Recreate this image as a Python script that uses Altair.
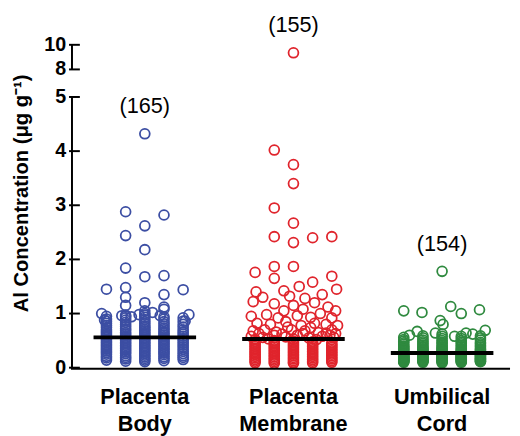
import altair as alt
import pandas as pd

# ---------------- data ----------------
categories = ["Placenta Body", "Placenta Membrane", "Umbilical Cord"]
counts = [165, 155, 154]
medians = [0.56, 0.53, 0.27]
colors = ["#3c4ea3", "#e0242c", "#2f8a3f"]
y_title = "Al Concentration (μg g⁻¹)"

# dense columns (five sub-columns per group, offsets -2..2)
body_columns = [
    [0.14, 0.18, 0.21, 0.25, 0.28, 0.31, 0.34, 0.37, 0.40, 0.43, 0.46, 0.49, 0.52, 0.55, 0.58, 0.61, 0.64, 0.67, 0.70, 0.74, 0.78, 0.82, 0.86, 0.90, 0.95],
    [0.12, 0.16, 0.19, 0.22, 0.26, 0.29, 0.32, 0.35, 0.38, 0.41, 0.44, 0.47, 0.50, 0.53, 0.56, 0.59, 0.62, 0.65, 0.69, 0.72, 0.76, 0.80, 0.84, 0.88, 0.92, 0.95, 0.97],
    [0.11, 0.14, 0.17, 0.20, 0.23, 0.26, 0.29, 0.32, 0.35, 0.38, 0.41, 0.44, 0.47, 0.50, 0.53, 0.56, 0.59, 0.62, 0.65, 0.68, 0.71, 0.74, 0.77, 0.81, 0.85, 0.89, 0.93, 0.97, 1.00],
    [0.13, 0.17, 0.20, 0.24, 0.27, 0.30, 0.33, 0.36, 0.39, 0.42, 0.45, 0.48, 0.51, 0.54, 0.57, 0.60, 0.63, 0.66, 0.70, 0.73, 0.77, 0.81, 0.85, 0.90, 0.94],
    [0.15, 0.19, 0.22, 0.26, 0.30, 0.34, 0.38, 0.42, 0.46, 0.50, 0.54, 0.58, 0.62, 0.66, 0.70, 0.75, 0.80, 0.86, 0.92],
]
body_extra_offsets = [0, -1, 1, 0, -1, 0, -1, 0, 1, -2, -1, 1, 2, -1, -1, 0, 1, 0, -2.25, 2.3, -1.2, 1.0, -0.3, 0.4, -2.1, 2.1, -0.7, 0.8]
body_extra_values = [4.32, 2.88, 2.82, 2.62, 2.44, 2.18, 1.84, 1.68, 1.70, 1.45, 1.48, 1.35, 1.44, 1.30, 1.15, 1.20, 1.12, 1.05, 1.00, 0.98, 0.96, 1.08, 0.98, 1.02, 0.88, 0.86, 0.94, 0.96]

mem_columns = [
    [0.09, 0.12, 0.15, 0.18, 0.21, 0.24, 0.27, 0.30, 0.33, 0.36, 0.39, 0.42, 0.45, 0.48],
    [0.08, 0.11, 0.14, 0.17, 0.20, 0.23, 0.26, 0.29, 0.32, 0.35, 0.38, 0.41, 0.44, 0.47, 0.50],
    [0.08, 0.10, 0.13, 0.16, 0.19, 0.22, 0.25, 0.28, 0.31, 0.34, 0.37, 0.40, 0.43, 0.46, 0.49],
    [0.09, 0.12, 0.15, 0.18, 0.21, 0.24, 0.27, 0.30, 0.33, 0.36, 0.39, 0.42, 0.45, 0.48],
    [0.10, 0.13, 0.16, 0.19, 0.22, 0.25, 0.28, 0.31, 0.34, 0.37, 0.40, 0.43, 0.46],
]
mem_extra_offsets = [0, -1, 0, 0, -1, 0, -1, 0, 1, 2, -1, 0, -2, -1, 2, 1, 2.25, -1.95,
                     0.3, -0.5, -1.6, -0.2, 0.6, 1.5, -2.1, -1.0, 0.0, 1.1, 1.8, -0.5, 0.5, 2.2,
                     -2.2, -1.4, -0.8, 0.2, 0.9, 1.4, 2.0, -1.9, -1.2, -0.4, 0.4, 1.1, 1.7, 2.3,
                     -2.1, -1.5, -0.9, -0.1, 0.6, 1.3, 2.0, -2.2, -1.6, -1.0, -0.4, 0.2, 0.8, 1.5, 2.1,
                     -1.8, -0.6, 0.5, 1.7, -1.3, 0.0, 1.2, 2.2, -2.0, -0.3, 0.9, 1.9]
mem_extra_values = [9.35, 4.02, 3.75, 3.40, 2.95, 2.67, 2.42, 2.31, 2.40, 2.42, 1.87, 1.87, 1.76, 1.65, 1.69, 1.58, 1.45, 1.40,
                    1.50, 1.42, 1.30, 1.32, 1.28, 1.35, 1.22, 1.18, 1.15, 1.20, 1.12, 1.05, 1.08, 1.05,
                    0.95, 0.98, 0.92, 0.96, 0.93, 1.00, 0.92, 0.82, 0.80, 0.85, 0.78, 0.82, 0.80, 0.78,
                    0.68, 0.70, 0.66, 0.70, 0.68, 0.65, 0.70, 0.58, 0.56, 0.60, 0.57, 0.60, 0.55, 0.58, 0.56,
                    0.63, 0.62, 0.63, 0.64, 0.53, 0.53, 0.52, 0.63, 0.52, 0.75, 0.74, 0.60]

cord_columns = [
    [0.10, 0.11, 0.12, 0.13, 0.14, 0.15, 0.16, 0.17, 0.18, 0.19, 0.20, 0.21, 0.22, 0.24, 0.26, 0.28, 0.30, 0.32, 0.34, 0.36, 0.38, 0.40, 0.43, 0.46, 0.49, 0.52, 0.56],
    [0.10, 0.12, 0.13, 0.14, 0.15, 0.17, 0.18, 0.19, 0.20, 0.22, 0.23, 0.24, 0.25, 0.27, 0.29, 0.31, 0.33, 0.35, 0.37, 0.39, 0.42, 0.45, 0.48, 0.51, 0.55, 0.59],
    [0.09, 0.11, 0.12, 0.13, 0.14, 0.16, 0.17, 0.18, 0.19, 0.21, 0.22, 0.23, 0.25, 0.26, 0.28, 0.30, 0.32, 0.34, 0.36, 0.38, 0.41, 0.44, 0.47, 0.50, 0.54, 0.58, 0.62],
    [0.10, 0.11, 0.13, 0.14, 0.15, 0.16, 0.18, 0.19, 0.20, 0.21, 0.23, 0.24, 0.26, 0.27, 0.29, 0.31, 0.33, 0.35, 0.38, 0.41, 0.44, 0.47, 0.50, 0.54, 0.58],
    [0.11, 0.12, 0.13, 0.15, 0.16, 0.17, 0.19, 0.20, 0.22, 0.23, 0.25, 0.27, 0.29, 0.31, 0.33, 0.35, 0.38, 0.41, 0.44, 0.47, 0.51, 0.55, 0.59],
]
cord_extra_offsets = [0, -2, -1.05, 0.45, 1.0, 1.95, -0.1, 0.05, -1.3, -0.35, 2.25, 1.25, 0.65, -1.7, 1.6]
cord_extra_values = [1.78, 1.05, 1.02, 1.13, 1.00, 1.07, 0.87, 0.80, 0.67, 0.64, 0.69, 0.64, 0.58, 0.60, 0.62]

y_tick_values = [0, 1, 2, 3, 4, 5, 8, 10]
axis_segment_lo = [0, 8]
axis_segment_hi = [5, 10]

# ---------------- tables ----------------
COL_STEP = 0.129
groups = [
    (body_columns, body_extra_offsets, body_extra_values),
    (mem_columns, mem_extra_offsets, mem_extra_values),
    (cord_columns, cord_extra_offsets, cord_extra_values),
]
rows = []
for gi, (cat, (cols, eo, ev)) in enumerate(zip(categories, groups), start=1):
    for ci, col in enumerate(cols):
        for v in col:
            rows.append({"category": cat, "slot": gi + (ci - 2) * COL_STEP, "value": v})
    for o, v in zip(eo, ev):
        rows.append({"category": cat, "slot": gi + o * COL_STEP, "value": v})
points = pd.DataFrame(rows)

maxv = points.groupby("category")["value"].max()
summary = pd.DataFrame({
    "category": categories,
    "g": [1, 2, 3],
    "median": medians,
    "maxv": [maxv[c] for c in categories],
    "label": [f"({n})" for n in counts],
})
ticks_df = pd.DataFrame({"t": y_tick_values, "tl": [str(v) for v in y_tick_values]})
segs_df = pd.DataFrame({"lo": axis_segment_lo, "hi": axis_segment_hi})
title_df = pd.DataFrame({"title": [y_title]})

FONT = "Liberation Sans"
W, H = 445, 328

x_scale = alt.Scale(domain=[0.51, 3.457], nice=False, zero=False)
y_scale = alt.Scale(domain=[0, 5, 8, 10], range=[H, 53, 25, 0], nice=False, zero=False)

pts = alt.Chart(points).mark_point(
    shape="circle", filled=False, size=100, strokeWidth=1.8, opacity=1
).encode(
    x=alt.X("slot:Q", scale=x_scale, axis=None),
    y=alt.Y("value:Q", scale=y_scale, axis=None),
    color=alt.Color("category:N", scale=alt.Scale(domain=categories, range=colors), legend=None),
)

med = alt.Chart(summary).transform_calculate(
    lo="datum.g - 0.345", hi="datum.g + 0.345"
).mark_rule(color="black", strokeWidth=4).encode(
    x=alt.X("lo:Q", scale=x_scale, axis=None),
    x2="hi:Q",
    y=alt.Y("median:Q", scale=y_scale, axis=None),
)

cnt = alt.Chart(summary).mark_text(
    font=FONT, fontSize=22, color="black", baseline="alphabetic", align="center", dy=-21
).encode(
    x=alt.X("g:Q", scale=x_scale, axis=None),
    y=alt.Y("maxv:Q", scale=y_scale, axis=None),
    text="label:N",
)

cat_labels = alt.Chart(summary).mark_text(
    font=FONT, fontSize=22, fontWeight="bold", color="black", baseline="alphabetic",
    align="center", lineBreak=" ", lineHeight=27
).encode(
    x=alt.X("g:Q", scale=x_scale, axis=None),
    y=alt.value(365),
    text="category:N",
)

xaxis_line = alt.Chart(title_df).mark_rule(color="black", strokeWidth=2).encode(
    x=alt.value(-1), x2=alt.value(W), y=alt.value(H + 1),
)

yaxis_line = alt.Chart(segs_df).mark_rule(color="black", strokeWidth=2).encode(
    x=alt.value(0),
    y=alt.Y("lo:Q", scale=y_scale, axis=None),
    y2="hi:Q",
)

yaxis_ticks = alt.Chart(ticks_df).mark_rule(color="black", strokeWidth=2).encode(
    x=alt.value(-3),
    x2=alt.value(8),
    y=alt.Y("t:Q", scale=y_scale, axis=None),
)

yaxis_labels = alt.Chart(ticks_df).mark_text(
    font=FONT, fontSize=20, fontWeight="bold", color="black", align="right", baseline="middle"
).encode(
    x=alt.value(-6),
    y=alt.Y("t:Q", scale=y_scale, axis=None),
    text="tl:N",
)

yaxis_title = alt.Chart(title_df).mark_text(
    font=FONT, fontSize=20.5, fontWeight="bold", color="black", align="center",
    baseline="middle", angle=270
).encode(
    x=alt.value(-51), y=alt.value(151), text="title:N",
)

chart = alt.layer(
    pts, med, cnt, cat_labels, xaxis_line, yaxis_line, yaxis_ticks, yaxis_labels, yaxis_title
).properties(
    width=W, height=H,
    autosize=alt.AutoSizeParams(type="none"),
    padding={"left": 65, "top": 34, "right": 2, "bottom": 66},
    background="white",
).configure_view(stroke=None)

chart.save("out.html", embed_options={"renderer": "svg", "actions": False})
